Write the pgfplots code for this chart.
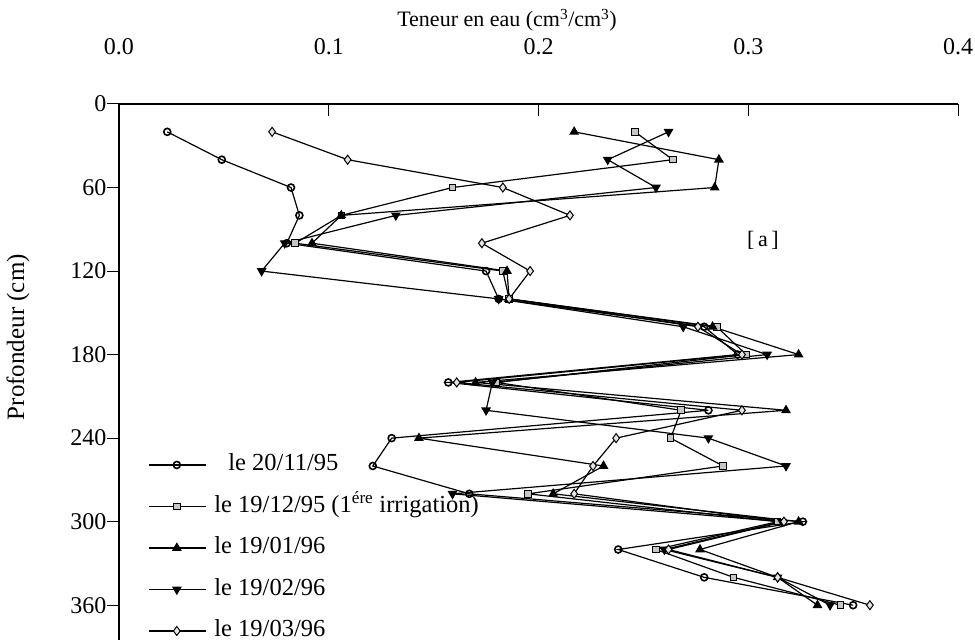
\documentclass[border=0pt]{standalone}
\usepackage{fontspec}
\setmainfont{Liberation Serif}
\usepackage{pgfplots}
\usepackage{pgfplotstable}
\pgfplotsset{compat=1.18}

\pgfplotstableread{
d x
20 0.023
40 0.049
60 0.082
80 0.086
100 0.080
120 0.175
140 0.181
160 0.279
180 0.295
200 0.157
220 0.281
240 0.130
260 0.121
280 0.167
300 0.326
320 0.238
340 0.279
360 0.350
}\serA
\pgfplotstableread{
d x
20 0.246
40 0.264
60 0.159
80 0.106
100 0.084
120 0.183
140 0.186
160 0.285
180 0.299
200 0.180
220 0.268
240 0.263
260 0.288
280 0.195
300 0.314
320 0.256
340 0.293
360 0.344
}\serB
\pgfplotstableread{
d x
20 0.217
40 0.286
60 0.284
80 0.106
100 0.092
120 0.185
140 0.186
160 0.283
180 0.324
200 0.170
220 0.318
240 0.143
260 0.231
280 0.207
300 0.324
320 0.277
340 0.314
360 0.333
}\serC
\pgfplotstableread{
d x
20 0.262
40 0.233
60 0.256
80 0.132
100 0.079
120 0.068
140 0.181
160 0.269
180 0.309
200 0.178
220 0.175
240 0.281
260 0.318
280 0.159
300 0.316
320 0.260
340 0.314
360 0.339
}\serD
\pgfplotstableread{
d x
20 0.073
40 0.109
60 0.183
80 0.215
100 0.173
120 0.196
140 0.186
160 0.276
180 0.297
200 0.161
220 0.297
240 0.237
260 0.226
280 0.217
300 0.317
320 0.262
340 0.314
360 0.358
}\serE

\begin{document}
\begin{tikzpicture}
\path[use as bounding box] (-119bp,-4bp) rectangle (856bp,640bp);
\begin{axis}[
  at={(0,0)}, anchor=south west,
  scale only axis, width=839bp, height=536bp,
  xmin=0, xmax=0.4, ymin=0, ymax=385,
  y dir=reverse,
  axis x line*=top, axis y line*=left,
  axis line style={-, line width=1.1bp},
  xtick={0,0.1,0.2,0.3,0.4},
  xticklabels={0.0,0.1,0.2,0.3,0.4},
  ytick={0,60,120,180,240,300,360},
  major tick length=12bp,
  xtick align=inside, ytick align=outside,
  tick style={line width=1bp, black},
  /pgf/number format/assume math mode=true,
  every tick label/.append style={font=\fontsize{24bp}{28bp}\selectfont},
  xticklabel style={yshift=46bp},
  yticklabel style={xshift=3bp},
  xlabel={Teneur en eau (cm\textsuperscript{3}/cm\textsuperscript{3})},
  xlabel style={at={(axis description cs:0.4625,1)}, anchor=center, yshift=84bp, font=\fontsize{22bp}{26bp}\selectfont},
  ylabel={Profondeur (cm)},
  ylabel style={at={(axis description cs:-0.1204,0.565)}, anchor=center, font=\fontsize{25bp}{29bp}\selectfont},
  legend image code/.code={\draw[mark repeat=2,mark phase=2,#1] plot coordinates {(0bp,0bp) (28bp,0bp) (57bp,0bp)};},
  legend cell align=left,
  legend style={at={(axis description cs:0.0346,0.347)}, anchor=north west, draw=none, fill=none,
    font=\fontsize{24.5bp}{28bp}\selectfont, inner sep=0pt, row sep=20bp, column sep=8bp,
    nodes={inner sep=0pt, text height=16.5bp, text depth=5bp}},
  every axis plot/.append style={black, line width=1.2bp},
]
\addplot[mark=o, mark size=3.5bp, mark options={line width=1.6bp}] table[x=x,y=d] {\serA};
\addlegendentry{\hspace{14bp}le 20/11/95}
\addplot[mark=square*, mark size=3.3bp, mark options={fill=gray!45, line width=1bp}] table[x=x,y=d] {\serB};
\addlegendentry{le 19/12/95 (1\textsuperscript{ére} irrigation)}
\addplot[mark=triangle*, mark size=4.5bp, mark options={fill=black}] table[x=x,y=d] {\serC};
\addlegendentry{le 19/01/96}
\addplot[mark=triangle*, mark size=4.5bp, mark options={fill=black, rotate=180}] table[x=x,y=d] {\serD};
\addlegendentry{le 19/02/96}
\addplot[mark=diamond*, mark size=4.5bp, mark options={fill=gray!20, line width=1bp}] table[x=x,y=d] {\serE};
\addlegendentry{le 19/03/96}
\node[font=\fontsize{22bp}{26bp}\selectfont] at (axis cs:0.307,98) {[\,a\,]};
\end{axis}
\end{tikzpicture}
\end{document}
